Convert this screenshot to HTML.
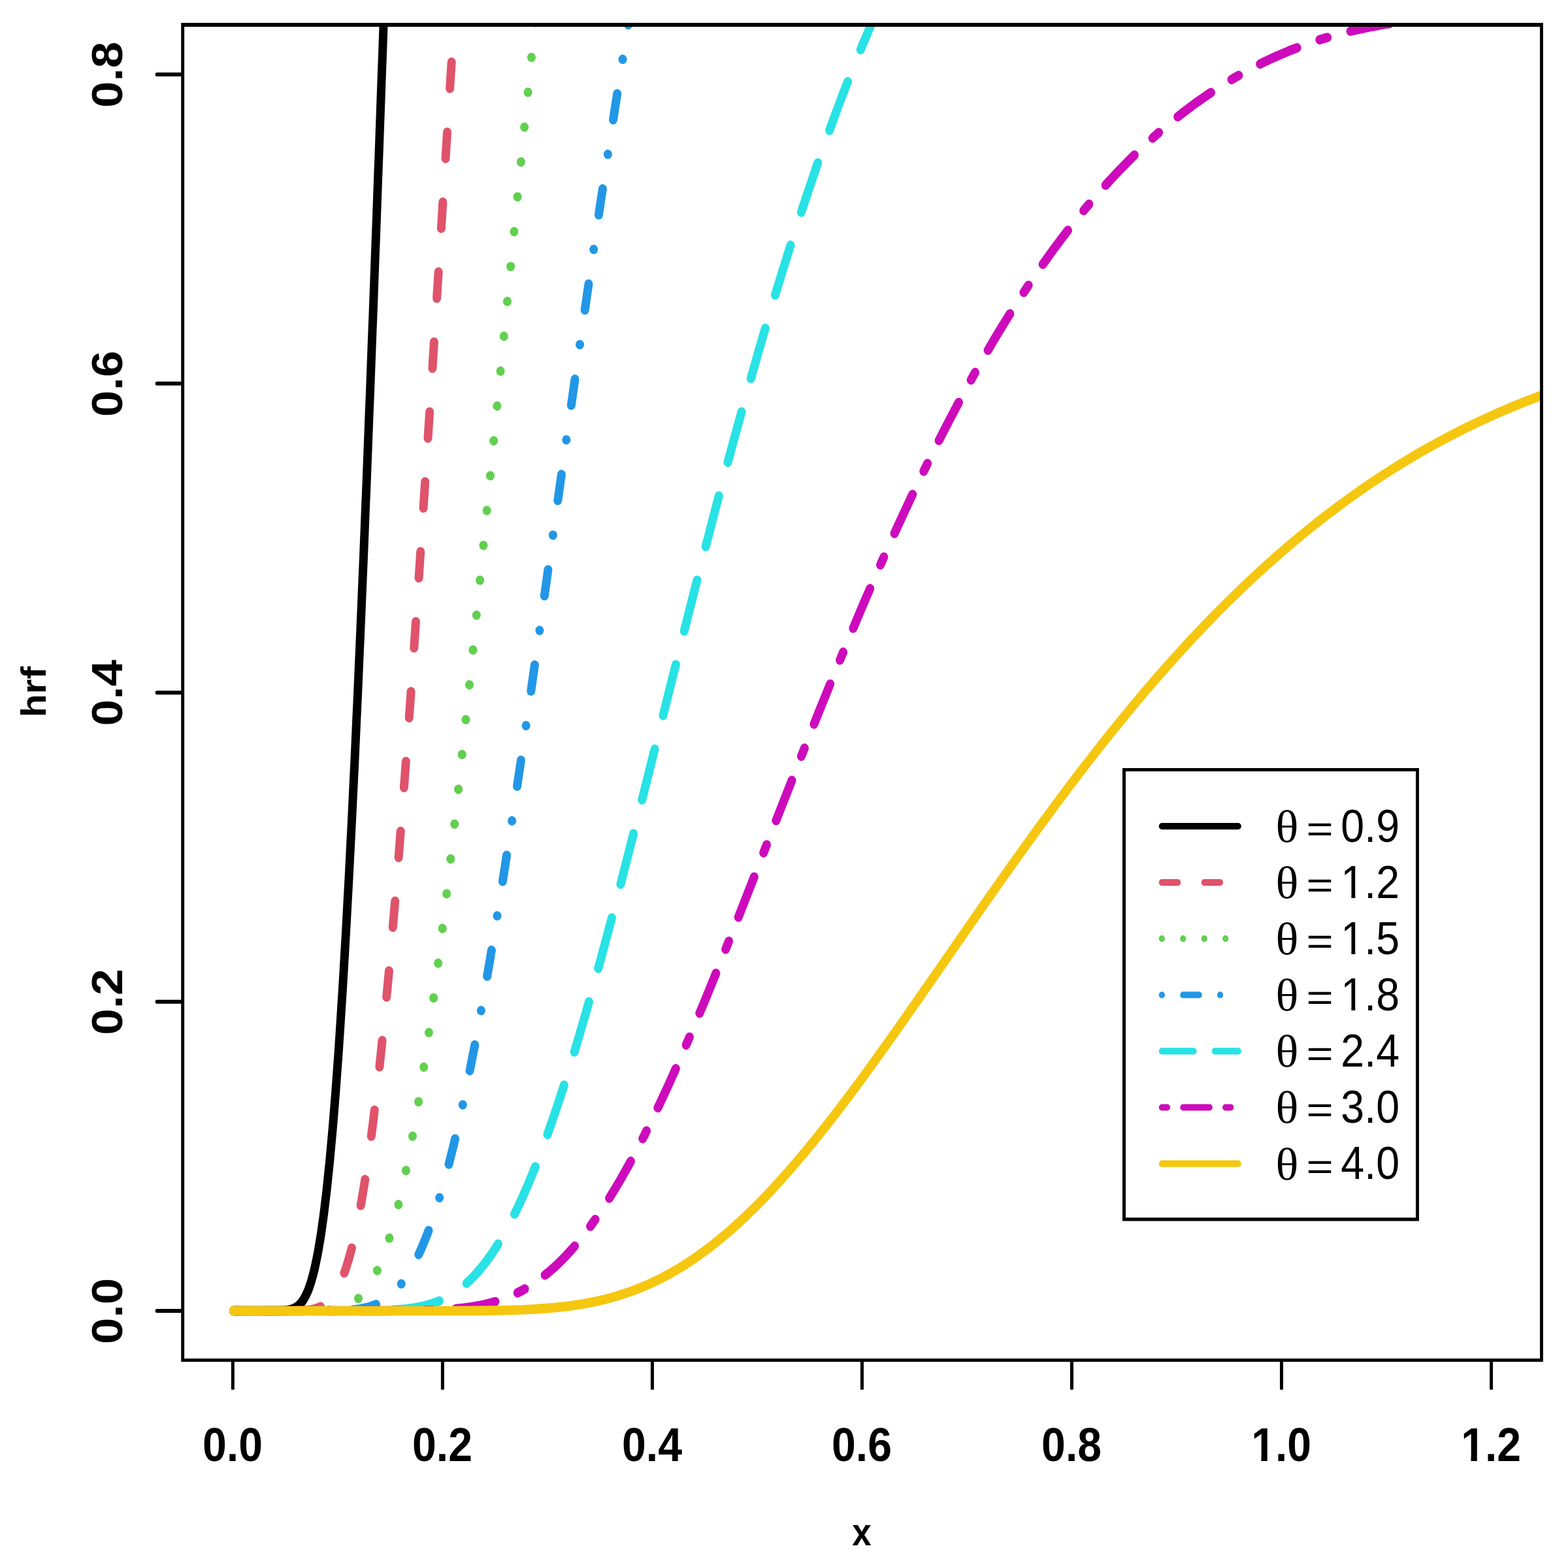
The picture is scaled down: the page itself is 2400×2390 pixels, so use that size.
<!DOCTYPE html>
<html lang="en"><head><meta charset="utf-8"><title>hrf</title>
<style>html,body{margin:0;padding:0;background:#fff}svg{display:block}text{font-family:"Liberation Sans",sans-serif;fill:#000}.b{font-weight:bold}.ax{font-size:66.2px}.lab{font-size:53px}.lg{font-size:64.6px}.th{font-family:"Liberation Serif",serif;font-size:63.8px}</style></head><body>
<svg width="2400" height="2390" viewBox="0 0 2400 2390">
<rect width="2400" height="2390" fill="#fff"/>
<defs><clipPath id="pc"><rect x="279.65" y="34.41" width="2079.85" height="1853.58"/></clipPath></defs>
<g transform="scale(1,1.103)">
<g clip-path="url(#pc)" fill="none" stroke-linecap="round" stroke-linejoin="round" stroke-width="13">
<path d="M357.5 1819.58 L383.3 1819.58 L409.2 1819.58 L429.4 1819.45 L435 1819.21 L438.4 1818.93 L440.6 1818.65 L442.9 1818.29 L445.1 1817.81 L447.4 1817.19 L448.5 1816.81 L449.6 1816.39 L450.7 1815.92 L451.9 1815.4 L453 1814.81 L454.1 1814.16 L455.2 1813.44 L456.4 1812.64 L457.5 1811.76 L458.6 1810.79 L459.7 1809.72 L460.8 1808.56 L462 1807.29 L463.1 1805.91 L464.2 1804.41 L465.3 1802.78 L466.5 1801.01 L467.6 1799.11 L468.7 1797.06 L469.8 1794.85 L471 1792.48 L472.1 1789.94 L473.2 1787.22 L474.3 1784.32 L475.5 1781.23 L476.6 1777.93 L477.7 1774.43 L478.8 1770.72 L480 1766.78 L481.1 1762.61 L482.2 1758.21 L483.3 1753.57 L484.4 1748.67 L485.6 1743.52 L486.7 1738.11 L487.8 1732.43 L488.9 1726.47 L490.1 1720.23 L491.2 1713.71 L492.3 1706.89 L493.4 1699.77 L494.6 1692.35 L495.7 1684.63 L496.8 1676.59 L497.9 1668.23 L499.1 1659.55 L500.2 1650.54 L502.4 1631.54 L504.7 1611.2 L506.9 1589.5 L509.2 1566.42 L511.4 1541.94 L513.7 1516.06 L515.9 1488.78 L518.2 1460.09 L520.4 1430 L522.6 1398.52 L524.9 1365.65 L527.1 1331.43 L529.4 1295.86 L531.6 1258.97 L533.9 1220.78 L536.1 1181.32 L538.4 1140.63 L540.6 1098.73 L542.9 1055.67 L545.1 1011.48 L547.4 966.2 L549.6 919.87 L551.9 872.53 L554.1 824.23 L556.4 775.01 L558.6 724.92 L559.7 699.56 L560.9 674 L562 648.25 L563.1 622.3 L564.2 596.18 L565.3 569.87 L566.5 543.39 L567.6 516.75 L568.7 489.94 L569.8 462.98 L571 435.87 L572.1 408.62 L573.2 381.23 L574.3 353.71 L575.5 326.06 L576.6 298.3 L577.7 270.42 L578.8 242.43 L580 214.33 L581.1 186.14 L582.2 157.85 L583.3 129.48 L584.4 101.03 L585.6 72.5 L586.7 43.9 L587.8 15.23 L588.9 -13.5" stroke="#000000"/>
<path d="M357.5 1819.58 L383.3 1819.58 L409.2 1819.58 L435 1819.58 L458.6 1819.39 L466.5 1819.05 L471 1818.69 L474.3 1818.3 L477.7 1817.79 L481.1 1817.11 L483.3 1816.55 L485.6 1815.89 L487.8 1815.11 L490.1 1814.21 L492.3 1813.17 L494.6 1811.98 L496.8 1810.61 L497.9 1809.86 L499.1 1809.05 L500.2 1808.2 L501.3 1807.29 L502.4 1806.33 L503.5 1805.31 L504.7 1804.23 L505.8 1803.08 L506.9 1801.88 L508 1800.6 L509.2 1799.26 L510.3 1797.84 L511.4 1796.35 L512.5 1794.78 L513.7 1793.14 L514.8 1791.41 L515.9 1789.6 L517 1787.7 L518.2 1785.72 L519.3 1783.64 L520.4 1781.48 L521.5 1779.21 L522.6 1776.86 L523.8 1774.4 L524.9 1771.84 L526 1769.17 L528.3 1763.52 L530.5 1757.43 L532.8 1750.89 L535 1743.87 L537.3 1736.36 L539.5 1728.36 L541.8 1719.84 L544 1710.79 L546.2 1701.21 L548.5 1691.08 L550.7 1680.39 L553 1669.14 L555.2 1657.31 L557.5 1644.91 L559.7 1631.93 L562 1618.36 L564.2 1604.19 L566.5 1589.44 L568.7 1574.09 L571 1558.15 L574.3 1533.13 L577.7 1506.79 L581.1 1479.14 L584.4 1450.19 L587.8 1419.96 L591.2 1388.49 L594.6 1355.8 L597.9 1321.92 L601.3 1286.89 L604.7 1250.73 L608 1213.51 L610.3 1188.11 L612.5 1162.27 L614.8 1135.99 L617 1109.29 L619.3 1082.19 L621.5 1054.7 L623.8 1026.82 L626 998.59 L628.3 970 L630.5 941.08 L632.8 911.84 L635 882.3 L637.3 852.46 L639.5 822.35 L641.8 791.98 L644 761.36 L646.2 730.51 L648.5 699.44 L650.7 668.17 L653 636.71 L655.2 605.08 L657.5 573.29 L659.7 541.35 L662 509.27 L664.2 477.08 L666.5 444.77 L668.7 412.38 L671 379.9 L673.2 347.36 L675.5 314.76 L677.7 282.11 L680 249.43 L682.2 216.73 L684.5 184.02 L686.7 151.31 L688.9 118.62 L691.2 85.94 L693.4 53.3 L695.7 20.7 L697.9 -11.84" stroke="#DF536B" stroke-dasharray="36.49 60.82"/>
<path d="M357.5 1819.58 L383.3 1819.58 L409.2 1819.58 L435 1819.58 L460.8 1819.58 L486.7 1819.38 L497.9 1818.97 L504.7 1818.48 L510.3 1817.87 L514.8 1817.2 L518.2 1816.57 L521.5 1815.8 L524.9 1814.89 L528.3 1813.8 L530.5 1812.97 L532.8 1812.05 L535 1811.03 L537.3 1809.9 L539.5 1808.66 L541.8 1807.3 L544 1805.81 L546.2 1804.19 L548.5 1802.42 L550.7 1800.5 L553 1798.43 L555.2 1796.18 L557.5 1793.77 L559.7 1791.17 L562 1788.38 L564.2 1785.4 L566.5 1782.21 L568.7 1778.82 L571 1775.2 L573.2 1771.36 L575.5 1767.29 L577.7 1762.98 L580 1758.43 L582.2 1753.62 L584.4 1748.57 L586.7 1743.25 L588.9 1737.66 L591.2 1731.8 L593.4 1725.67 L595.7 1719.26 L597.9 1712.56 L600.2 1705.58 L602.4 1698.3 L604.7 1690.73 L606.9 1682.87 L610.3 1670.52 L613.7 1657.49 L617 1643.78 L620.4 1629.39 L623.8 1614.31 L627.1 1598.56 L630.5 1582.12 L633.9 1565.01 L637.3 1547.23 L641.8 1522.49 L646.2 1496.59 L650.7 1469.56 L655.2 1441.42 L659.7 1412.21 L664.2 1381.96 L668.7 1350.71 L673.2 1318.5 L677.7 1285.36 L681.1 1259.93 L684.5 1234.03 L687.8 1207.67 L691.2 1180.88 L694.6 1153.67 L697.9 1126.07 L701.3 1098.09 L704.7 1069.76 L708 1041.09 L711.4 1012.1 L714.8 982.83 L718.2 953.28 L721.5 923.47 L724.9 893.43 L728.3 863.18 L731.6 832.73 L735 802.11 L738.4 771.33 L741.8 740.42 L745.1 709.38 L748.5 678.24 L751.9 647.01 L755.2 615.72 L758.6 584.38 L762 553 L765.4 521.6 L768.7 490.2 L772.1 458.81 L775.5 427.45 L778.8 396.12 L782.2 364.85 L785.6 333.65 L789 302.52 L792.3 271.49 L795.7 240.56 L799.1 209.74 L802.4 179.05 L805.8 148.5 L809.2 118.09 L812.5 87.84 L815.9 57.76 L819.3 27.84 L822.7 -1.89 L823.8 -11.75" stroke="#61D04F" stroke-dasharray="0.01 48.66"/>
<path d="M357.5 1819.58 L383.3 1819.58 L409.2 1819.58 L435 1819.58 L460.8 1819.58 L486.7 1819.57 L512.5 1819.41 L529.4 1818.94 L539.5 1818.29 L546.2 1817.63 L551.9 1816.87 L557.5 1815.89 L562 1814.93 L566.5 1813.76 L569.8 1812.75 L573.2 1811.6 L576.6 1810.3 L580 1808.84 L583.3 1807.22 L586.7 1805.41 L590.1 1803.4 L593.4 1801.19 L595.7 1799.59 L597.9 1797.9 L600.2 1796.09 L602.4 1794.18 L604.7 1792.15 L606.9 1790.01 L609.2 1787.75 L611.4 1785.37 L613.7 1782.86 L615.9 1780.22 L618.2 1777.44 L620.4 1774.53 L622.7 1771.49 L624.9 1768.29 L627.1 1764.96 L629.4 1761.48 L632.8 1755.97 L636.1 1750.11 L639.5 1743.91 L642.9 1737.33 L646.2 1730.4 L649.6 1723.08 L653 1715.39 L656.4 1707.32 L659.7 1698.86 L663.1 1690 L666.5 1680.76 L669.8 1671.12 L673.2 1661.09 L676.6 1650.66 L681.1 1636.14 L685.6 1620.92 L690.1 1605.01 L694.6 1588.4 L699.1 1571.12 L704.7 1548.58 L710.3 1525.01 L715.9 1500.45 L721.5 1474.93 L727.2 1448.46 L732.8 1421.11 L738.4 1392.89 L744 1363.86 L749.6 1334.04 L755.2 1303.49 L759.7 1278.55 L764.2 1253.2 L768.7 1227.44 L773.2 1201.31 L777.7 1174.84 L782.2 1148.03 L786.7 1120.92 L791.2 1093.54 L795.7 1065.89 L800.2 1038.01 L804.7 1009.91 L809.2 981.63 L813.7 953.18 L818.2 924.58 L822.7 895.85 L827.2 867.02 L831.6 838.1 L836.1 809.11 L840.6 780.08 L845.1 751.02 L849.6 721.94 L854.1 692.87 L858.6 663.82 L863.1 634.82 L867.6 605.86 L872.1 576.98 L876.6 548.17 L881.1 519.47 L885.6 490.88 L890.1 462.41 L894.6 434.08 L899.1 405.89 L903.6 377.86 L908.1 350 L912.6 322.33 L917 294.84 L921.5 267.55 L926 240.46 L930.5 213.59 L935 186.95 L939.5 160.53 L944 134.35 L948.5 108.42 L953 82.73 L957.5 57.3 L962 32.12 L966.5 7.21 L969.9 -11.29" stroke="#2297E6" stroke-dasharray="0.01 48.66 36.49 48.66"/>
<path d="M357.5 1819.58 L383.3 1819.58 L409.2 1819.58 L435 1819.58 L460.8 1819.58 L486.7 1819.58 L512.5 1819.58 L538.4 1819.57 L564.2 1819.46 L590.1 1819.01 L608 1818.21 L620.4 1817.24 L630.5 1816.09 L639.5 1814.72 L647.4 1813.2 L654.1 1811.62 L659.7 1810.09 L665.4 1808.34 L671 1806.36 L676.6 1804.12 L681.1 1802.14 L685.6 1799.97 L690.1 1797.61 L694.6 1795.05 L699.1 1792.28 L703.6 1789.29 L708 1786.07 L712.5 1782.63 L717 1778.93 L721.5 1774.99 L726 1770.8 L730.5 1766.34 L735 1761.62 L739.5 1756.62 L744 1751.35 L748.5 1745.79 L753 1739.95 L757.5 1733.83 L762 1727.41 L766.5 1720.69 L772.1 1711.89 L777.7 1702.62 L783.3 1692.89 L789 1682.7 L794.6 1672.04 L800.2 1660.93 L806.9 1646.99 L813.7 1632.41 L820.4 1617.19 L828.3 1598.66 L836.1 1579.29 L844 1559.14 L853 1535.16 L862 1510.22 L871 1484.38 L880 1457.69 L887.8 1433.67 L895.7 1409.09 L903.6 1383.96 L911.4 1358.35 L919.3 1332.27 L927.2 1305.78 L935 1278.91 L942.9 1251.71 L950.8 1224.2 L958.6 1196.43 L966.5 1168.44 L973.2 1144.3 L980 1120.03 L986.7 1095.68 L993.5 1071.25 L1000.2 1046.76 L1006.9 1022.25 L1013.7 997.71 L1020.4 973.19 L1027.2 948.68 L1033.9 924.22 L1040.6 899.81 L1047.4 875.47 L1054.1 851.22 L1060.9 827.07 L1068.7 799.04 L1076.6 771.19 L1084.5 743.54 L1092.3 716.1 L1100.2 688.89 L1108.1 661.94 L1115.9 635.24 L1123.8 608.83 L1131.7 582.7 L1139.5 556.88 L1147.4 531.37 L1155.3 506.19 L1163.1 481.34 L1171 456.83 L1178.9 432.66 L1186.7 408.86 L1195.7 382.09 L1204.7 355.8 L1213.7 330 L1222.7 304.69 L1231.7 279.88 L1240.7 255.57 L1249.6 231.76 L1259.8 205.58 L1269.9 180.03 L1280 155.13 L1290.1 130.87 L1300.2 107.24 L1310.3 84.25 L1321.6 59.45 L1332.8 35.42 L1344 12.16 L1353 -5.9" stroke="#28E2E5" stroke-dasharray="72.99 48.66"/>
<path d="M357.5 1819.58 L383.3 1819.58 L409.2 1819.58 L435 1819.58 L460.8 1819.58 L486.7 1819.58 L512.5 1819.58 L538.4 1819.58 L564.2 1819.58 L590.1 1819.56 L615.9 1819.49 L641.8 1819.24 L667.6 1818.61 L691.2 1817.4 L708 1815.93 L721.5 1814.28 L732.8 1812.5 L742.9 1810.53 L751.9 1808.45 L760.9 1806.04 L768.7 1803.62 L776.6 1800.9 L784.5 1797.85 L792.3 1794.47 L799.1 1791.28 L805.8 1787.82 L812.5 1784.07 L819.3 1780.03 L826 1775.69 L832.8 1771.04 L839.5 1766.07 L846.3 1760.78 L853 1755.16 L859.7 1749.21 L866.5 1742.92 L873.2 1736.29 L881.1 1728.13 L889 1719.5 L896.8 1710.41 L904.7 1700.85 L912.6 1690.84 L921.5 1678.83 L930.5 1666.25 L940.6 1651.4 L950.8 1635.84 L962 1617.75 L973.2 1598.85 L985.6 1577.15 L997.9 1554.57 L1010.3 1531.15 L1022.7 1506.96 L1033.9 1484.34 L1045.1 1461.18 L1056.4 1437.52 L1067.6 1413.41 L1078.9 1388.9 L1090.1 1364.03 L1101.3 1338.85 L1111.4 1315.96 L1121.5 1292.89 L1131.7 1269.66 L1141.8 1246.31 L1151.9 1222.87 L1162 1199.37 L1172.1 1175.83 L1182.2 1152.28 L1192.3 1128.74 L1202.5 1105.25 L1212.6 1081.81 L1222.7 1058.46 L1232.8 1035.22 L1242.9 1012.1 L1253 989.13 L1264.3 963.79 L1275.5 938.67 L1286.7 913.79 L1298 889.18 L1309.2 864.84 L1320.4 840.8 L1331.7 817.07 L1342.9 793.66 L1354.1 770.58 L1365.4 747.86 L1376.6 725.49 L1389 701.3 L1401.3 677.57 L1413.7 654.3 L1426.1 631.5 L1438.4 609.18 L1450.8 587.33 L1464.3 564.05 L1477.7 541.35 L1491.2 519.23 L1504.7 497.7 L1519.3 475.02 L1533.9 453.03 L1548.5 431.72 L1563.1 411.09 L1578.9 389.61 L1594.6 368.9 L1610.3 348.96 L1627.2 328.42 L1644 308.73 L1660.9 289.88 L1678.9 270.67 L1696.9 252.37 L1714.8 234.97 L1733.9 217.43 L1753 200.85 L1772.1 185.2 L1791.2 170.46 L1810.3 156.61 L1829.4 143.6 L1848.5 131.43 L1868.8 119.42 L1889 108.27 L1909.2 97.97 L1930.6 87.97 L1951.9 78.84 L1974.4 70.13 L1996.9 62.31 L2020.5 55.01 L2045.2 48.33 L2069.9 42.58 L2094.6 37.72 L2119.3 33.71 L2145.2 30.38 L2171 27.88 L2196.9 26.18 L2222.7 25.22 L2248.6 24.97 L2274.4 25.39 L2300.2 26.44 L2326.1 28.09 L2351.9 30.3 L2377.8 33.04 L2378.9 33.17" stroke="#CD0BBC" stroke-dasharray="12.16 36.49 60.82 36.49"/>
<path d="M357.5 1819.58 L383.3 1819.58 L409.2 1819.58 L435 1819.58 L460.8 1819.58 L486.7 1819.58 L512.5 1819.58 L538.4 1819.58 L564.2 1819.58 L590.1 1819.58 L615.9 1819.58 L641.8 1819.58 L667.6 1819.57 L693.4 1819.53 L719.3 1819.44 L745.1 1819.25 L771 1818.86 L796.8 1818.17 L822.7 1817 L848.5 1815.17 L872.1 1812.75 L892.3 1809.96 L910.3 1806.84 L927.2 1803.29 L942.9 1799.38 L957.5 1795.19 L972.1 1790.44 L985.6 1785.53 L999.1 1780.09 L1012.6 1774.1 L1026 1767.56 L1039.5 1760.45 L1053 1752.78 L1066.5 1744.52 L1080 1735.69 L1094.6 1725.48 L1109.2 1714.6 L1124.9 1702.15 L1141.8 1688 L1159.8 1672 L1178.9 1654.03 L1196.8 1636.25 L1214.8 1617.67 L1232.8 1598.37 L1249.6 1579.65 L1266.5 1560.38 L1283.4 1540.62 L1300.2 1520.41 L1317.1 1499.81 L1332.8 1480.26 L1348.5 1460.46 L1364.3 1440.43 L1380 1420.22 L1395.7 1399.85 L1411.4 1379.38 L1427.2 1358.83 L1442.9 1338.24 L1458.6 1317.63 L1474.4 1297.04 L1490.1 1276.5 L1505.8 1256.03 L1521.6 1235.66 L1537.3 1215.41 L1553 1195.31 L1568.8 1175.37 L1584.5 1155.62 L1600.2 1136.07 L1617.1 1115.37 L1633.9 1094.93 L1650.8 1074.79 L1667.6 1054.94 L1684.5 1035.41 L1701.3 1016.21 L1718.2 997.35 L1735.1 978.83 L1753 959.48 L1771 940.53 L1789 922.01 L1807 903.91 L1824.9 886.25 L1844 867.95 L1863.2 850.15 L1882.3 832.83 L1901.4 816.02 L1920.5 799.69 L1940.7 782.94 L1960.9 766.74 L1981.1 751.08 L2001.4 735.95 L2022.7 720.57 L2044.1 705.77 L2065.4 691.54 L2086.8 677.89 L2108.1 664.79 L2130.6 651.59 L2153.1 639 L2175.5 626.98 L2198 615.53 L2221.6 604.12 L2245.2 593.3 L2268.8 583.06 L2292.4 573.39 L2316 564.27 L2339.6 555.69 L2364.3 547.26 L2378.9 542.54" stroke="#F5C710" stroke-width="13.25"/>
</g>
<rect x="1718" y="1066.18" width="454" height="628.83" fill="#fff"/>
<g fill="none" stroke-linecap="round" stroke-width="9.2">
<path d="M1778.4 1146.87 H1895.3" stroke="#000000"/>
<path d="M1778.4 1224.93 H1895.3" stroke="#DF536B" stroke-dasharray="24.33 40.55"/>
<path d="M1778.4 1302.99 H1895.3" stroke="#61D04F" stroke-dasharray="0.01 32.44"/>
<path d="M1778.4 1381.05 H1895.3" stroke="#2297E6" stroke-dasharray="0.01 32.44 24.33 32.44"/>
<path d="M1778.4 1459.11 H1895.3" stroke="#28E2E5" stroke-dasharray="48.66 32.44"/>
<path d="M1778.4 1537.17 H1895.3" stroke="#CD0BBC" stroke-dasharray="8.11 24.33 40.55 24.33"/>
<path d="M1778.4 1615.23 H1895.3" stroke="#F5C710"/>
</g>
<text class="th" transform="translate(1952.4 1168.54) scale(1.142 1)">θ</text>
<text class="lg" transform="translate(1999.45 1168.54) scale(1.093 0.797)">=</text>
<text class="lg" x="2052.3" y="1168.54">0.9</text>
<text class="th" transform="translate(1952.4 1246.6) scale(1.142 1)">θ</text>
<text class="lg" transform="translate(1999.45 1246.6) scale(1.093 0.797)">=</text>
<text class="lg" x="2052.3" y="1246.6">1.2</text>
<text class="th" transform="translate(1952.4 1324.66) scale(1.142 1)">θ</text>
<text class="lg" transform="translate(1999.45 1324.66) scale(1.093 0.797)">=</text>
<text class="lg" x="2052.3" y="1324.66">1.5</text>
<text class="th" transform="translate(1952.4 1402.72) scale(1.142 1)">θ</text>
<text class="lg" transform="translate(1999.45 1402.72) scale(1.093 0.797)">=</text>
<text class="lg" x="2052.3" y="1402.72">1.8</text>
<text class="th" transform="translate(1952.4 1480.78) scale(1.142 1)">θ</text>
<text class="lg" transform="translate(1999.45 1480.78) scale(1.093 0.797)">=</text>
<text class="lg" x="2052.3" y="1480.78">2.4</text>
<text class="th" transform="translate(1952.4 1558.84) scale(1.142 1)">θ</text>
<text class="lg" transform="translate(1999.45 1558.84) scale(1.093 0.797)">=</text>
<text class="lg" x="2052.3" y="1558.84">3.0</text>
<text class="th" transform="translate(1952.4 1636.9) scale(1.142 1)">θ</text>
<text class="lg" transform="translate(1999.45 1636.9) scale(1.093 0.797)">=</text>
<text class="lg" x="2052.3" y="1636.9">4.0</text>
<text class="b ax" text-anchor="middle" x="355.95" y="2028.29">0.0</text>
<text class="b ax" text-anchor="middle" x="676.99" y="2028.29">0.2</text>
<text class="b ax" text-anchor="middle" x="998.03" y="2028.29">0.4</text>
<text class="b ax" text-anchor="middle" x="1319.07" y="2028.29">0.6</text>
<text class="b ax" text-anchor="middle" x="1640.11" y="2028.29">0.8</text>
<text class="b ax" text-anchor="middle" x="1961.15" y="2028.29">1.0</text>
<text class="b ax" text-anchor="middle" x="2282.19" y="2028.29">1.2</text>
<text class="b ax" text-anchor="middle" transform="translate(186.7 1819.85) rotate(-90)">0.0</text>
<text class="b ax" text-anchor="middle" transform="translate(186.7 1390.8) rotate(-90)">0.2</text>
<text class="b ax" text-anchor="middle" transform="translate(186.7 961.74) rotate(-90)">0.4</text>
<text class="b ax" text-anchor="middle" transform="translate(186.7 532.68) rotate(-90)">0.6</text>
<text class="b ax" text-anchor="middle" transform="translate(186.7 103.63) rotate(-90)">0.8</text>
<text class="b lab" text-anchor="middle" x="1319" y="2144.97">x</text>
<text class="b lab" text-anchor="middle" transform="translate(70 960.29) rotate(-90)">hrf</text>
<rect x="2055.72" y="1240.47" width="12.72" height="7.43" fill="#fff"/><rect x="2074.35" y="1240.47" width="12.32" height="7.43" fill="#fff"/>
<rect x="2055.72" y="1318.53" width="12.72" height="7.43" fill="#fff"/><rect x="2074.35" y="1318.53" width="12.32" height="7.43" fill="#fff"/>
<rect x="2055.72" y="1396.59" width="12.72" height="7.43" fill="#fff"/><rect x="2074.35" y="1396.59" width="12.32" height="7.43" fill="#fff"/>
<rect x="1917.81" y="2020.23" width="12.68" height="9.36" fill="#fff"/><rect x="1939.77" y="2020.23" width="11.94" height="9.36" fill="#fff"/>
<rect x="2238.85" y="2020.23" width="12.68" height="9.36" fill="#fff"/><rect x="2260.81" y="2020.23" width="11.94" height="9.36" fill="#fff"/>
</g>
<g fill="#000" stroke="none">
<path d="M353.85 2082.45 V2126.6 q0 1.2 1.2 1.2 h2.6 q1.2 0 1.2 -1.2 V2082.45 z"/>
<path d="M674.89 2082.45 V2126.6 q0 1.2 1.2 1.2 h2.6 q1.2 0 1.2 -1.2 V2082.45 z"/>
<path d="M995.93 2082.45 V2126.6 q0 1.2 1.2 1.2 h2.6 q1.2 0 1.2 -1.2 V2082.45 z"/>
<path d="M1316.97 2082.45 V2126.6 q0 1.2 1.2 1.2 h2.6 q1.2 0 1.2 -1.2 V2082.45 z"/>
<path d="M1638.01 2082.45 V2126.6 q0 1.2 1.2 1.2 h2.6 q1.2 0 1.2 -1.2 V2082.45 z"/>
<path d="M1959.05 2082.45 V2126.6 q0 1.2 1.2 1.2 h2.6 q1.2 0 1.2 -1.2 V2082.45 z"/>
<path d="M2280.09 2082.45 V2126.6 q0 1.2 1.2 1.2 h2.6 q1.2 0 1.2 -1.2 V2082.45 z"/>
<path d="M279.65 2004.05 H240.2 q-2.5 0 -2.5 2.5 v0.9 q0 2.5 2.5 2.5 H279.65 z"/>
<path d="M279.65 1530.8 H240.2 q-2.5 0 -2.5 2.5 v0.9 q0 2.5 2.5 2.5 H279.65 z"/>
<path d="M279.65 1057.55 H240.2 q-2.5 0 -2.5 2.5 v0.9 q0 2.5 2.5 2.5 H279.65 z"/>
<path d="M279.65 584.3 H240.2 q-2.5 0 -2.5 2.5 v0.9 q0 2.5 2.5 2.5 H279.65 z"/>
<path d="M279.65 111.05 H240.2 q-2.5 0 -2.5 2.5 v0.9 q0 2.5 2.5 2.5 H279.65 z"/>
<path fill-rule="evenodd" d="M277.2 35 H2361.9 V2085 H277.2 z M282.1 40.9 V2079.9 H2357.05 V40.9 z"/>
<path fill-rule="evenodd" d="M1718 1176 H2172 V1869.6 H1718 z M1723 1180.9 V1864.2 H2167.05 V1180.9 z"/>
</g>
</svg></body></html>
